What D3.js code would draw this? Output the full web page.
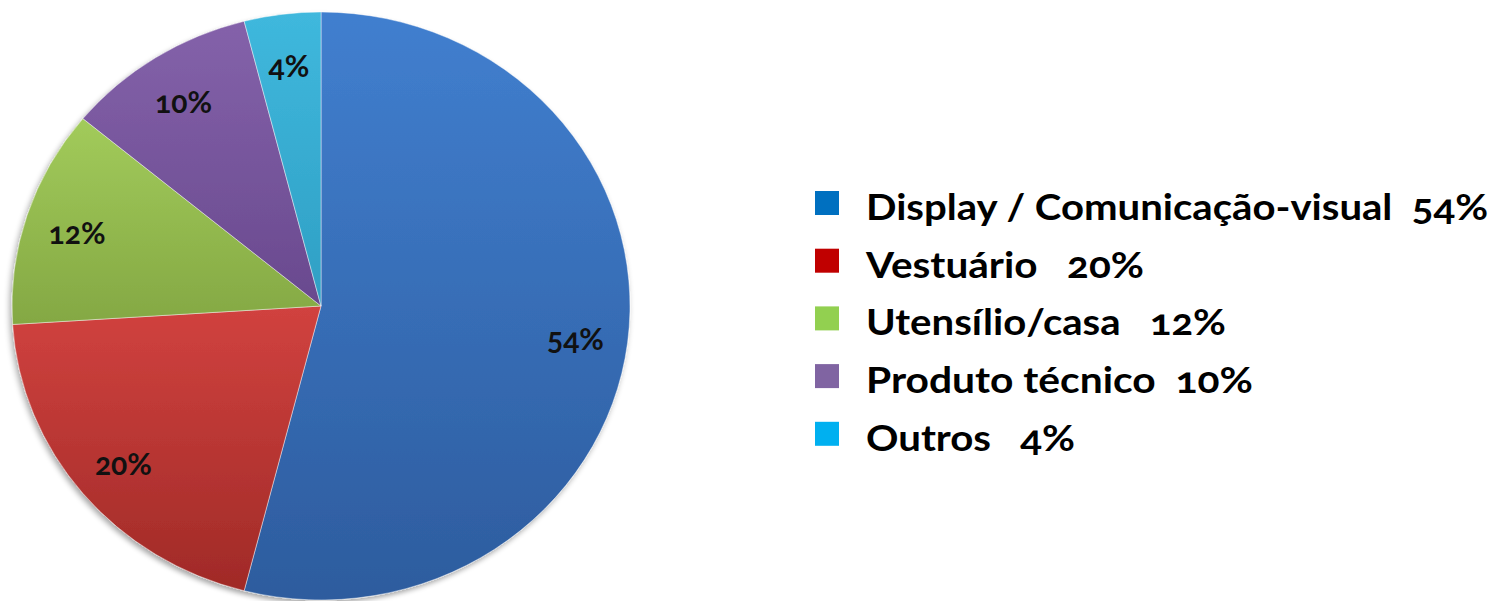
<!DOCTYPE html>
<html>
<head>
<meta charset="utf-8">
<script src="https://cdn.jsdelivr.net/npm/d3@7"></script>
<style>
  body { margin: 0; background: #fff; }
  text { font-family: Lato, "Open Sans", sans-serif; font-weight: bold; font-variant-numeric: oldstyle-nums; white-space: pre; }
</style>
</head>
<body>
<div id="chart"></div>
<script>
// data
var categories = ["Display / Comunicação-visual", "Vestuário", "Utensílio/casa", "Produto técnico", "Outros"];
var values = [54, 20, 12, 10, 4];
var legendLabels = ["Display / Comunicação-visual  54%", "Vestuário   20%", "Utensílio/casa   12%", "Produto técnico  10%", "Outros   4%"];

// colours: slice gradient top / bottom, legend swatch
var sliceTop    = ["#417fcf", "#d1423f", "#a2cb5b", "#8462aa", "#3fb8dd"];
var sliceBottom = ["#2d5c9e", "#a02a27", "#84a843", "#69498e", "#2f9fc4"];
var swatch      = ["#0070c0", "#c00000", "#92d050", "#8064a2", "#00b0f0"];

var width = 1497, height = 601;
var cx = 321, cy = 306, rx = 309, ry = 294;

var svg = d3.select("#chart").append("svg")
    .attr("width", width)
    .attr("height", height);

var defs = svg.append("defs");

// soft shadow like the office chart
var shadow = defs.append("filter").attr("id", "shadow")
    .attr("x", "-10%").attr("y", "-10%").attr("width", "120%").attr("height", "120%");
shadow.append("feGaussianBlur").attr("in", "SourceAlpha").attr("stdDeviation", 3);
shadow.append("feOffset").attr("dx", -2).attr("dy", 3).attr("result", "blur");
shadow.append("feComponentTransfer").append("feFuncA").attr("type", "linear").attr("slope", 0.35);
var merge = shadow.append("feMerge");
merge.append("feMergeNode");
merge.append("feMergeNode").attr("in", "SourceGraphic");

values.forEach(function(v, i) {
  var grad = defs.append("linearGradient")
      .attr("id", "grad" + i)
      .attr("x1", 0).attr("y1", 0).attr("x2", 0).attr("y2", 1);
  grad.append("stop").attr("offset", "0%").attr("stop-color", sliceTop[i]);
  grad.append("stop").attr("offset", "100%").attr("stop-color", sliceBottom[i]);
});

var pie = d3.pie().sort(null).value(d => d);
var arcs = pie(values);

var arc = d3.arc().innerRadius(0).outerRadius(rx);
var labelArc = d3.arc().innerRadius(rx * 0.83).outerRadius(rx * 0.83);

// the pie is a bit squashed vertically, so scale the group
var g = svg.append("g")
    .attr("transform", "translate(" + cx + "," + cy + ") scale(1," + (ry / rx) + ")")
    .attr("filter", "url(#shadow)");

g.selectAll("path")
    .data(arcs)
    .enter()
    .append("path")
    .attr("d", arc)
    .attr("fill", (d, i) => "url(#grad" + i + ")")
    .attr("stroke", "rgba(255,255,255,0.45)")
    .attr("stroke-width", 1);

// percentage labels inside the slices
svg.selectAll(".pct")
    .data(arcs)
    .enter()
    .append("text")
    .attr("class", "pct")
    .attr("x", d => cx + labelArc.centroid(d)[0])
    .attr("y", d => cy + labelArc.centroid(d)[1] * ry / rx)
    .attr("dy", "0.45em")
    .attr("text-anchor", "middle")
    .style("font-size", "30px")
    .style("fill", "#111")
    .text(d => d.value + "%");

// legend
var legendX = 815, legendY = 191, legendStep = 57.7;
var legendWidths = [622, 278, 360, 387, 209];

var legend = svg.selectAll(".legend")
    .data(categories)
    .enter()
    .append("g")
    .attr("class", "legend")
    .attr("transform", (d, i) => "translate(" + legendX + "," + (legendY + i * legendStep) + ")");

legend.append("rect")
    .attr("width", 24)
    .attr("height", 24)
    .attr("fill", (d, i) => swatch[i]);

legend.append("text")
    .attr("x", 51)
    .attr("y", 29)
    .attr("textLength", (d, i) => legendWidths[i])
    .attr("lengthAdjust", "spacingAndGlyphs")
    .style("font-size", "36px")
    .style("fill", "#000")
    .text((d, i) => legendLabels[i]);
</script>
</body>
</html>
